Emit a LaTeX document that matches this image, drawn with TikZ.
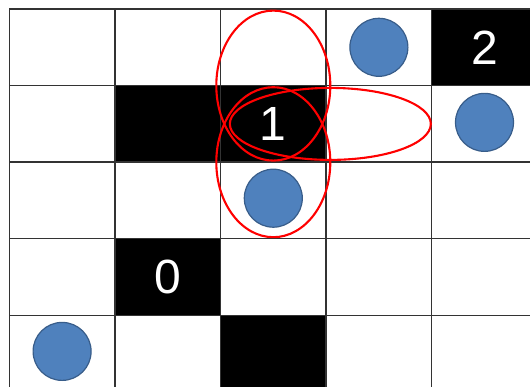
\documentclass[tikz,border=0pt]{standalone}
\usepackage{fontspec}
\setmainfont{Liberation Sans}
\definecolor{stoneblue}{RGB}{79,129,189}
\definecolor{stoneedge}{RGB}{56,93,138}
\tikzset{
  gridline/.style={draw=black!80, line width=1.4pt},
  stone/.style={circle, fill=stoneblue, draw=stoneedge, line width=1.2pt, minimum size=58pt, inner sep=0pt},
  digit/.style={text=white, font=\fontsize{48}{48}\selectfont, inner sep=0pt},
  reach/.style={draw=red, line width=2.1pt}
}
\begin{document}
\begin{tikzpicture}[x=105.6pt, y=-76.6pt, line join=round]
    \useasboundingbox (-9.3pt,9pt) rectangle (520.7pt,-378pt);
    \clip (-9.3pt,9pt) rectangle (520.7pt,-378pt);
    % board
    \foreach \c/\r in {4/0,1/1,2/1,1/3,2/4} \fill (\c,\r) rectangle ++(1,1);
    \foreach \i in {0,...,5} \draw[gridline] (\i,0) -- (\i,5);
    \foreach \j in {0,...,5} \draw[gridline] (0,\j) -- (5,\j);
    \node[digit] (d2) at (4.5,0.5) {2};
    \node[digit] (d1) at (2.5,1.5) {1};
    \node[digit] (d0) at (1.5,3.5) {0};
    \foreach \c/\r [count=\k] in {3.5/0.5, 4.5/1.48, 2.5/2.47, 0.5/4.47} \node[stone] (s\k) at (\c,\r) {};
    % reach of light 1
    \draw[reach] (2.5,1) ellipse [x radius=57pt, y radius=75pt];
    \draw[reach] (2.5,2) ellipse [x radius=57pt, y radius=75pt];
    \draw[reach] (3.04,1.5) ellipse [x radius=100.5pt, y radius=36pt];
\end{tikzpicture}
\end{document}
